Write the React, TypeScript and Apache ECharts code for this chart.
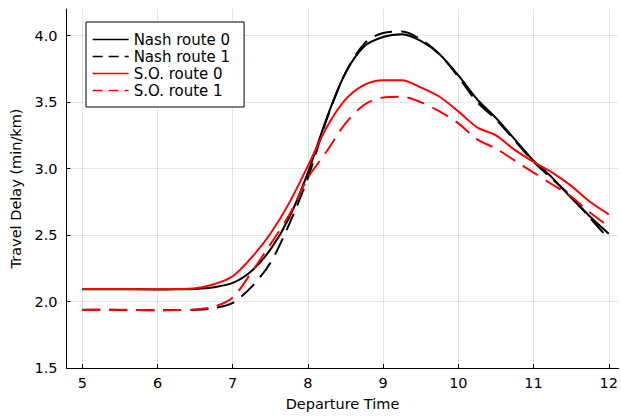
import React, { useEffect, useRef } from "react";
import * as echarts from "echarts";

const departureTimes = [5, 5.5, 6, 6.25, 6.5, 6.75, 7, 7.25, 7.5, 7.75, 8, 8.25, 8.5, 8.75, 9, 9.25, 9.5, 9.75, 10, 10.25, 10.5, 10.75, 11, 11.25, 11.5, 11.75, 12];
const nashRoute0 = [2.093, 2.093, 2.091, 2.092, 2.095, 2.108, 2.14, 2.23, 2.39, 2.63, 2.97, 3.38, 3.72, 3.92, 3.99, 4.01, 3.96, 3.86, 3.7, 3.52, 3.38, 3.22, 3.06, 2.93, 2.78, 2.64, 2.51];
const nashRoute1 = [1.938, 1.937, 1.935, 1.936, 1.938, 1.95, 1.99, 2.11, 2.29, 2.58, 2.93, 3.37, 3.72, 3.94, 4.02, 4.03, 3.97, 3.86, 3.69, 3.5, 3.37, 3.21, 3.05, 2.92, 2.79, 2.63, 2.47];
const soRoute0 = [2.094, 2.094, 2.092, 2.094, 2.1, 2.13, 2.19, 2.33, 2.51, 2.74, 3.02, 3.31, 3.52, 3.63, 3.665, 3.665, 3.61, 3.54, 3.43, 3.31, 3.25, 3.14, 3.05, 2.97, 2.87, 2.75, 2.655];
const soRoute1 = [1.937, 1.938, 1.935, 1.936, 1.94, 1.96, 2.03, 2.22, 2.43, 2.65, 2.93, 3.13, 3.34, 3.48, 3.535, 3.54, 3.5, 3.43, 3.34, 3.22, 3.15, 3.06, 2.97, 2.88, 2.79, 2.67, 2.565];
const xTicks = [5, 6, 7, 8, 9, 10, 11, 12];
const yTicks = [1.5, 2.0, 2.5, 3.0, 3.5, 4.0];
const seriesNames = ["Nash route 0", "Nash route 1", "S.O. route 0", "S.O. route 1"];

const FONT = "DejaVu Sans";

export default function App() {
  const ref = useRef<HTMLDivElement>(null);
  useEffect(() => {
    if (!ref.current) return;
    const chart = echarts.init(ref.current, undefined, { renderer: "svg" });
    const pair = (ys: number[]) => departureTimes.map((x, i) => [x, ys[i]]);
    const mk = (name: string, ys: number[], color: string, dashed: boolean) => ({
      name,
      type: "line",
      data: pair(ys),
      showSymbol: false,
      symbol: "none",
      smooth: 0.3,
      lineStyle: { color, width: 2, type: dashed ? [18, 9] : "solid" },
      itemStyle: { color },
      z: 2,
    });
    const legendItem = (name: string, color: string, dashed: boolean) => ({
      name,
      icon: "inherit",
      itemStyle: { opacity: 0, color: "transparent", borderWidth: 0 },
      lineStyle: { color, width: 1.3, type: dashed ? [10, 6] : "solid" },
    });
    chart.setOption({
      animation: false,
      backgroundColor: "#ffffff",
      textStyle: { fontFamily: FONT },
      grid: { left: 66.5, right: 1, top: 9, bottom: 45, containLabel: false },
      legend: {
        orient: "vertical",
        left: 86,
        top: 22,
        padding: [9, 14, 8, 6],
        borderColor: "#000",
        borderWidth: 1,
        backgroundColor: "#fff",
        icon: "inherit",
        itemWidth: 36,
        itemHeight: 10,
        itemGap: 0,
        itemStyle: { opacity: 0, color: "transparent", borderWidth: 0 },
        selectedMode: false,
        textStyle: { fontFamily: FONT, fontSize: 15, color: "#000", lineHeight: 17 },
        data: [
          legendItem(seriesNames[0], "#000000", false),
          legendItem(seriesNames[1], "#000000", true),
          legendItem(seriesNames[2], "#ff0000", false),
          legendItem(seriesNames[3], "#ff0000", true),
        ],
      },
      xAxis: {
        type: "value",
        min: 4.79,
        max: 12.129,
        name: "Departure Time",
        nameLocation: "middle",
        nameGap: 28,
        nameTextStyle: { fontFamily: FONT, fontSize: 14.5, color: "#000" },
        axisLine: { show: true, onZero: false, lineStyle: { color: "#000", width: 1 } },
        axisTick: { show: true, inside: true, length: 4, customValues: xTicks, lineStyle: { color: "#000" } },
        axisLabel: { customValues: xTicks, fontFamily: FONT, fontSize: 14.5, color: "#000", margin: 7 },
        splitLine: { show: true, lineStyle: { color: "rgba(0,0,0,0.1)", width: 1 } },
      },
      yAxis: {
        type: "value",
        min: 1.5,
        max: 4.2,
        name: "Travel Delay (min/km)",
        nameLocation: "middle",
        nameGap: 42,
        nameTextStyle: { fontFamily: FONT, fontSize: 14.5, color: "#000" },
        axisLine: { show: true, onZero: false, lineStyle: { color: "#000", width: 1 } },
        axisTick: { show: true, inside: true, length: 4, customValues: yTicks, lineStyle: { color: "#000" } },
        axisLabel: { customValues: yTicks, fontFamily: FONT, fontSize: 14.5, color: "#000", margin: 9, formatter: (v: number) => v.toFixed(1) },
        splitLine: { show: true, lineStyle: { color: "rgba(0,0,0,0.1)", width: 1 } },
      },
      series: [
        mk(seriesNames[0], nashRoute0, "#000000", false),
        mk(seriesNames[1], nashRoute1, "#000000", true),
        mk(seriesNames[2], soRoute0, "#ff0000", false),
        mk(seriesNames[3], soRoute1, "#ff0000", true),
      ],
    });
    return () => chart.dispose();
  }, []);
  return <div ref={ref} style={{ width: 621, height: 416, position: "absolute", left: 0, top: 0 }} />;
}
